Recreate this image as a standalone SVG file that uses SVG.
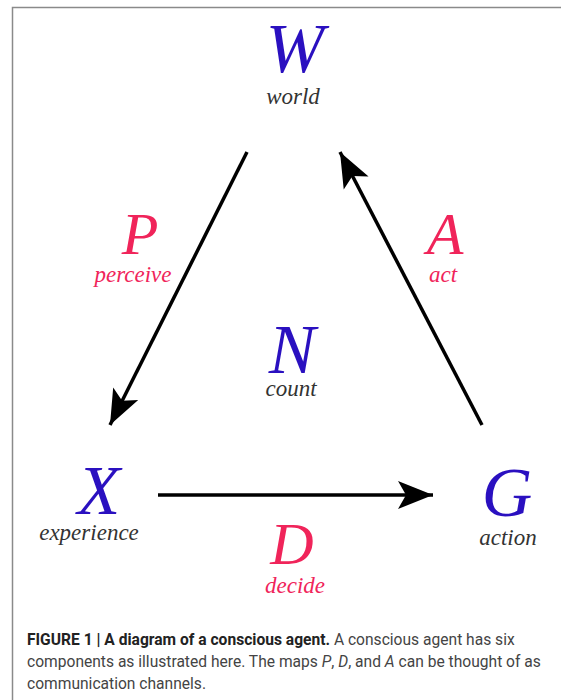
<svg xmlns="http://www.w3.org/2000/svg" width="561" height="700" viewBox="0 0 561 700">
<style>
.big{font-family:"Liberation Serif",serif;font-style:italic;text-anchor:middle}
.blue{fill:#2a10c0;font-size:70px}
.red{fill:#f0245a;font-size:60px}
.sub{font-family:"Liberation Serif",serif;font-style:italic;text-anchor:middle;font-size:23px}
.subk{fill:#333}
.subr{fill:#f0245a}
.cap{font-family:Roboto,"Liberation Sans",sans-serif;font-size:15.6px;fill:#444}
.conn{stroke:#000;stroke-width:3.5;fill:none}
</style>
<defs>
<marker id="ah" markerUnits="userSpaceOnUse" viewBox="-36 -16 38 32" refX="0" refY="0" markerWidth="38" markerHeight="32" orient="auto">
<path d="M0,0 L-35,-14 L-27,0 L-35,14 Z" fill="#000"/>
</marker>
</defs>
<rect x="0" y="0" width="561" height="700" fill="#fff"/>
<path d="M12.5,700 V7.5 H561" fill="none" stroke="#8a8a8a" stroke-width="1.5"/>
<g id="connectors">
<line class="conn" x1="247" y1="152" x2="110" y2="425" marker-end="url(#ah)"/>
<line class="conn" x1="482" y1="425" x2="340" y2="152" marker-end="url(#ah)"/>
<line class="conn" x1="158" y1="495" x2="433" y2="495" marker-end="url(#ah)"/>
</g>
<g id="W"><text class="big blue" x="295" y="72">W</text><text class="sub subk" x="293" y="104">world</text></g>
<g id="P"><text class="big red" x="140" y="254">P</text><text class="sub subr" x="133" y="282">perceive</text></g>
<g id="A"><text class="big red" x="445" y="254">A</text><text class="sub subr" x="443" y="282">act</text></g>
<g id="N"><text class="big blue" x="292" y="373">N</text><text class="sub subk" x="291" y="396">count</text></g>
<g id="X"><text class="big blue" x="99" y="514">X</text><text class="sub subk" x="89" y="540">experience</text></g>
<g id="G"><text class="big blue" x="507" y="516">G</text><text class="sub subk" x="508" y="545">action</text></g>
<g id="D"><text class="big red" x="292" y="564">D</text><text class="sub subr" x="295" y="593">decide</text></g>
<g id="caption">
<text class="cap" x="27" y="645"><tspan font-weight="bold" fill="#222">FIGURE 1 | A diagram of a conscious agent.</tspan> A conscious agent has six</text>
<text class="cap" x="27" y="667">components as illustrated here. The maps <tspan font-style="italic">P</tspan>, <tspan font-style="italic">D</tspan>, and <tspan font-style="italic">A</tspan> can be thought of as</text>
<text class="cap" x="27" y="689">communication channels.</text>
</g>
</svg>
